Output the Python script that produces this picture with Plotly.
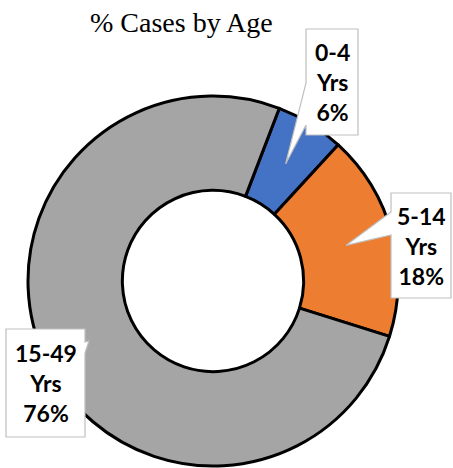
import math
import plotly.graph_objects as go

# ---- data ----
categories = ["0-4 Yrs", "5-14 Yrs", "15-49 Yrs"]
values = [6, 18, 76]
colors = ["#4472C4", "#ED7D31", "#A5A5A5"]
title_text = "% Cases by Age"

# ---- layout constants (pixels) ----
W, H = 453, 468
CX, CY, R = 213, 281, 185
HOLE = 0.49
ROTATION = 21

# callout boxes: (x0, y0, x1, y1), side of wedge, wedge attach span
boxes = [
    ((306, 29, 358, 135), "left", (83, 125)),
    ((391, 193, 451, 298), "left", (212, 235)),
    ((6, 329, 85, 437), "right", (342, 353)),
]

def px(x):
    return x / W

def py(y):
    return 1 - y / H

fig = go.Figure()
fig.add_trace(go.Pie(
    labels=categories,
    values=values,
    hole=HOLE,
    sort=False,
    direction="clockwise",
    rotation=ROTATION,
    textinfo="none",
    hoverinfo="label+percent",
    marker=dict(colors=colors, line=dict(color="#000000", width=3)),
    domain=dict(x=[px(CX - R), px(CX + R)], y=[py(CY + R), py(CY - R)]),
    showlegend=False,
))

total = sum(values)
cum = 0
shapes = []
annotations = []
for cat, v, (box, side, span) in zip(categories, values, boxes):
    mid = math.radians(ROTATION + 360 * (cum + v / 2) / total)
    cum += v
    rr = R * (1 + HOLE) / 2
    tx, ty = CX + rr * math.sin(mid), CY - rr * math.cos(mid)
    x0, y0, x1, y1 = box
    a, b = span
    if side == "left":
        pts = [(x0, y0), (x1, y0), (x1, y1), (x0, y1), (x0, b), (tx, ty), (x0, a)]
    else:
        pts = [(x0, y0), (x1, y0), (x1, a), (tx, ty), (x1, b), (x1, y1), (x0, y1)]
    path = "M " + " L ".join(f"{px(x):.5f},{py(y):.5f}" for x, y in pts) + " Z"
    shapes.append(dict(type="path", xref="paper", yref="paper", path=path,
                       fillcolor="white", line=dict(color="#BFBFBF", width=1.2),
                       layer="above"))
    pct = round(100 * v / total)
    text = cat.replace(" ", "<br>") + f"<br>{pct}%"
    annotations.append(dict(
        x=px((x0 + x1) / 2), y=py((y0 + y1) / 2), xref="paper", yref="paper",
        text=f"<b>{text}</b>", showarrow=False, xanchor="center", yanchor="middle",
        font=dict(family="Lato", size=23, color="#000000"),
    ))

annotations.append(dict(
    x=px(181), y=py(22), xref="paper", yref="paper", text=title_text,
    showarrow=False, xanchor="center", yanchor="middle",
    font=dict(family="Liberation Serif", size=28, color="#000000"),
))

fig.update_layout(
    width=W, height=H,
    margin=dict(l=0, r=0, t=0, b=0),
    paper_bgcolor="white",
    plot_bgcolor="white",
    shapes=shapes,
    annotations=annotations,
)

fig.write_html("out.html", config={"displayModeBar": False},
               post_script="document.body.style.margin='0';")
